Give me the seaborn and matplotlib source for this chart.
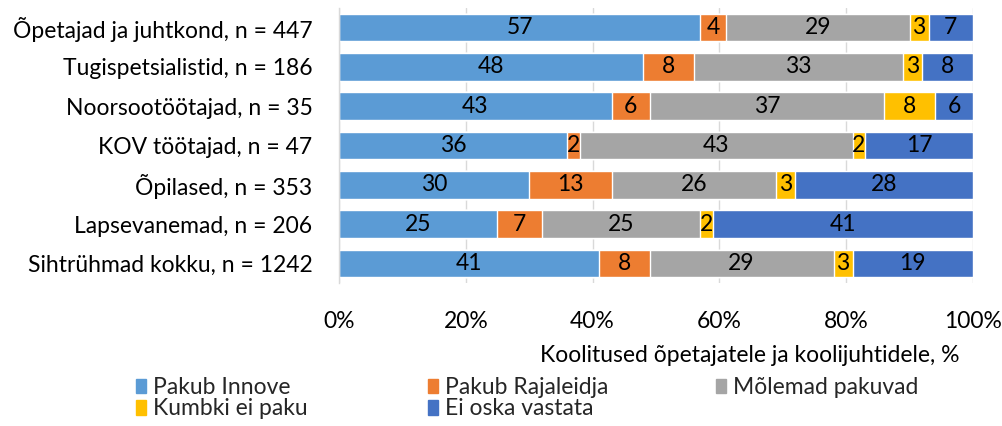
import matplotlib
matplotlib.use("Agg")
import matplotlib.pyplot as plt
import matplotlib.patches as mpatches
import seaborn as sns
import pandas as pd
import numpy as np

categories = [
    "Õpetajad ja juhtkond, n = 447",
    "Tugispetsialistid, n = 186",
    "Noorsootöötajad, n = 35",
    "KOV töötajad, n = 47",
    "Õpilased, n = 353",
    "Lapsevanemad, n = 206",
    "Sihtrühmad kokku, n = 1242",
]
series_names = ["Pakub Innove", "Pakub Rajaleidja", "Mõlemad pakuvad", "Kumbki ei paku", "Ei oska vastata"]
pakub_innove = [57, 48, 43, 36, 30, 25, 41]
pakub_rajaleidja = [4, 8, 6, 2, 13, 7, 8]
molemad_pakuvad = [29, 33, 37, 43, 26, 25, 29]
kumbki_ei_paku = [3, 3, 8, 2, 3, 2, 3]
ei_oska_vastata = [7, 8, 6, 17, 28, 41, 19]
colors = ["#5B9BD5", "#ED7D31", "#A5A5A5", "#FFC000", "#4472C4"]
xticks = [0, 20, 40, 60, 80, 100]
xlabel = "Koolitused õpetajatele ja koolijuhtidele, %"

FS = 16.5

sns.set_theme(style="white")
plt.rcParams["font.family"] = ["Lato", "DejaVu Sans"]

fig = plt.figure(figsize=(10.03, 4.26), dpi=100)
ax = fig.add_axes([339 / 1003, 1 - 283 / 426, 634 / 1003, 275 / 426])

series = [pakub_innove, pakub_rajaleidja, molemad_pakuvad, kumbki_ei_paku, ei_oska_vastata]
vals = np.array(series, dtype=float)
cum = np.cumsum(vals, axis=0)

# draw from the full stack down so each layer overlays the next
for i in reversed(range(len(series))):
    df = pd.DataFrame({"cat": categories, "val": cum[i]})
    sns.barplot(data=df, x="val", y="cat", orient="h", color=colors[i],
                saturation=1, width=0.7, edgecolor="white", linewidth=1.0, ax=ax, zorder=2)

# value labels
for i in range(len(series)):
    for j in range(len(categories)):
        v = vals[i, j]
        center = cum[i, j] - v / 2
        ax.text(center, j, f"{int(v)}", ha="center", va="center", fontsize=FS, color="black", zorder=5)

ax.set_xlim(0, 100)
ax.set_ylim(len(categories) - 0.5, -0.5)
ax.set_xticks(xticks)
ax.set_xticklabels([f"{t}%" for t in xticks], fontsize=FS, color="black")
ax.tick_params(axis="x", length=0, pad=20)
ax.tick_params(axis="y", length=0, pad=19, labelsize=FS, labelcolor="black")
ax.set_ylabel("")
ax.set_xlabel("")
ax.grid(axis="x", color="#D9D9D9", linewidth=1, zorder=0)
ax.set_axisbelow(True)
for s in ["top", "right", "bottom"]:
    ax.spines[s].set_visible(False)
ax.spines["left"].set_color("#D9D9D9")
ax.spines["left"].set_linewidth(1)

fig.text(960 / 1003, 1 - 356 / 426, xlabel, ha="right", va="center", fontsize=FS, color="black")

handles = [mpatches.Patch(color=c, label=n) for c, n in zip(colors, series_names)]
legend_cols = [([0, 3], 136), ([1, 4], 428), ([2], 716)]
for idxs, xpix in legend_cols:
    fig.legend([handles[k] for k in idxs], [series_names[k] for k in idxs],
               ncol=1, loc="upper left", bbox_to_anchor=(xpix / 1003, 1 - 377 / 426),
               frameon=False, fontsize=FS, handlelength=0.45, handleheight=0.6,
               handletextpad=0.3, labelspacing=0.02, borderpad=0, borderaxespad=0)

fig.savefig("out.png", dpi=100)
